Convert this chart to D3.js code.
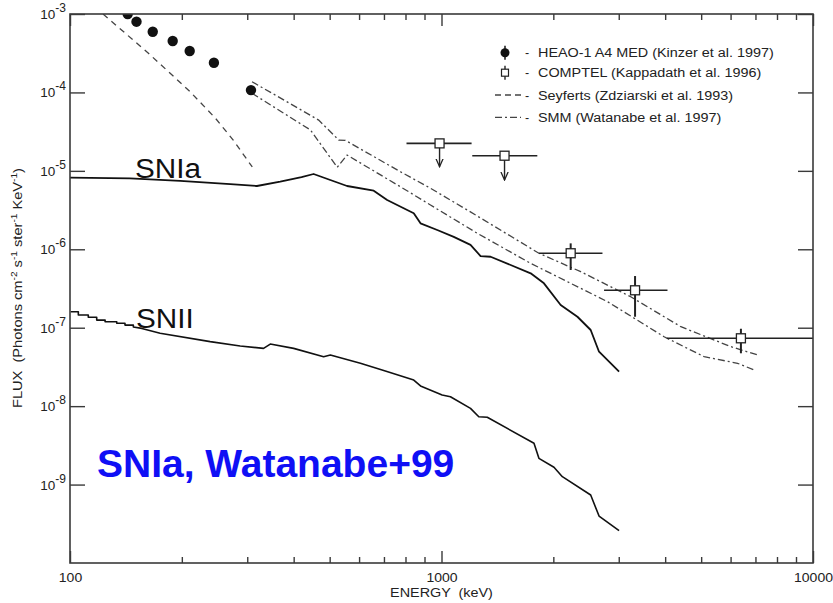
<!DOCTYPE html>
<html>
<head>
<meta charset="utf-8">
<script src="https://cdn.jsdelivr.net/npm/d3@7"></script>
<style>
  body { margin: 0; background: #fff; }
  svg { display: block; font-family: "Liberation Sans", Arial, Helvetica, sans-serif; }
</style>
</head>
<body>
<svg id="chart" width="833" height="603"></svg>
<script>
// Values: energy in keV, flux in photons cm^-2 s^-1 ster^-1 keV^-1

// HEAO-1 A4 MED points
const heaoEnergy = [143, 151, 167, 189, 210, 244, 307];
const heaoFlux   = [1.0e-3, 7.98e-4, 5.94e-4, 4.53e-4, 3.37e-4, 2.39e-4, 1.07e-4];

// COMPTEL points (first two are upper limits)
const comptelEnergy = [988, 1478, 2227, 3319, 6397];
const comptelLow    = [805, 1210, 1829, 2739, 4042];
const comptelHigh   = [1205, 1811, 2712, 4058, 10000];
const comptelFlux   = [2.24e-5, 1.56e-5, 8.9e-7, 3.0e-7, 7.33e-8];
const comptelErrHi  = [2.24e-5, 1.56e-5, 1.19e-6, 4.56e-7, 9.7e-8];
const comptelErrLo  = [1.13e-5, 7.64e-6, 5.44e-7, 1.38e-7, 4.72e-8];
const comptelUpperLimit = [true, true, false, false, false];

// Seyferts (dashed)
const seyfertEnergy = [100, 122.7, 162.6, 210.6, 246, 275, 309.5];
const seyfertFlux   = [2.34e-3, 1.0e-3, 3.16e-4, 1.02e-4, 4.72e-5, 2.47e-5, 1.12e-5];

// SMM band (dash-dot), upper and lower edges
const smmUpperEnergy = [309, 467, 529, 551, 775, 934, 1173, 1829, 2370, 3231, 4408, 6012, 7095];
const smmUpperFlux   = [1.37e-4, 4.44e-5, 2.47e-5, 2.45e-5, 9.75e-6, 6.0e-6, 3.17e-6, 8.9e-7, 5.18e-7, 2.48e-7, 1.03e-7, 5.73e-8, 4.49e-8];
const smmLowerEnergy = [309, 444, 524, 557, 775, 934, 1248, 1738, 2227, 2797, 3974, 5093, 6266, 6948];
const smmLowerFlux   = [9.75e-5, 3.32e-5, 1.11e-5, 1.59e-5, 6.28e-6, 3.67e-6, 1.6e-6, 6.62e-7, 3.68e-7, 2.15e-7, 7.67e-8, 4.27e-8, 3.52e-8, 2.89e-8];

// SNIa model
const snIaEnergy = [100, 145, 198, 270, 318.5, 368, 420, 452.6, 502, 557, 657, 714, 791, 842, 878, 974, 1079, 1197, 1274, 1356, 1535, 1738, 1887, 2093, 2322, 2521, 2655, 3006];
const snIaFlux   = [8.2e-6, 8.0e-6, 7.43e-6, 6.79e-6, 6.41e-6, 7.28e-6, 8.3e-6, 9.12e-6, 7.64e-6, 6.41e-6, 5.58e-6, 4.25e-6, 3.33e-6, 2.88e-6, 2.14e-6, 1.76e-6, 1.44e-6, 1.14e-6, 8.2e-7, 8.03e-7, 6.31e-7, 4.94e-7, 3.68e-7, 1.95e-7, 1.38e-7, 9.35e-8, 4.94e-8, 2.75e-8];

// SNII model (stepped at low energy)
const snIIEnergy = [100.4, 105.3, 105.3, 112, 112, 118, 118, 124.3, 124.3, 133.6, 133.6, 140.6, 140.6, 148.1, 148.1, 156.1,
                    174.8, 238.4, 287.2, 331.9, 346, 399.9, 481.6, 502.2, 604.9, 706, 842, 878, 1004, 1057, 1197, 1260, 1328,
                    1774, 1829, 2008, 2115, 2521, 2655, 3006];
const snIIFlux   = [1.6e-7, 1.6e-7, 1.45e-7, 1.45e-7, 1.36e-7, 1.36e-7, 1.25e-7, 1.25e-7, 1.19e-7, 1.19e-7, 1.14e-7, 1.14e-7, 1.08e-7, 1.08e-7, 1.02e-7, 9.8e-8,
                    8.5e-8, 6.64e-8, 5.85e-8, 5.45e-8, 6.19e-8, 5.45e-8, 4.27e-8, 4.49e-8, 3.52e-8, 2.81e-8, 2.15e-8, 1.81e-8, 1.39e-8, 1.32e-8, 9.37e-9, 7.33e-9, 7.21e-9,
                    3.36e-9, 2.16e-9, 1.66e-9, 1.26e-9, 7.36e-10, 3.97e-10, 2.58e-10];

// Axis ticks and labels
const xMajorTicks = [100, 1000, 10000];
const xMinorTicks = [200, 300, 400, 500, 600, 700, 800, 900, 2000, 3000, 4000, 5000, 6000, 7000, 8000, 9000];
const yTickExponents = [-9, -8, -7, -6, -5, -4, -3];

const legendLabels = [
  'HEAO-1 A4 MED (Kinzer et al. 1997)',
  'COMPTEL (Kappadath et al. 1996)',
  'Seyferts (Zdziarski et al. 1993)',
  'SMM (Watanabe et al. 1997)'
];

// ---- layout ----
const width = 833, height = 603;
const margin = { top: 14, right: 20, bottom: 40, left: 70 };
const innerW = width - margin.left - margin.right;
const innerH = height - margin.top - margin.bottom;
const ink = '#222';
const axisInk = '#3a3a3a';

const svg = d3.select('#chart');
const g = svg.append('g').attr('transform', `translate(${margin.left},${margin.top})`);

const x = d3.scaleLog().domain([100, 10000]).range([0, innerW]);
const y = d3.scaleLog().domain([1e-10, 1e-3]).range([innerH, 0]);

// widen text a bit, the source figure is stretched horizontally
function stretch(sel, k) {
  sel.each(function() {
    const len = this.getComputedTextLength();
    d3.select(this).attr('textLength', len * k).attr('lengthAdjust', 'spacingAndGlyphs');
  });
}

const defs = svg.append('defs');
defs.append('clipPath').attr('id', 'plotClip')
  .append('rect').attr('width', innerW).attr('height', innerH);
defs.append('marker')
  .attr('id', 'arrowDown')
  .attr('viewBox', '0 -5 10 10')
  .attr('refX', 9).attr('refY', 0)
  .attr('markerWidth', 9).attr('markerHeight', 9)
  .attr('markerUnits', 'userSpaceOnUse')
  .attr('orient', 'auto')
  .append('path')
  .attr('d', 'M0,-4L9,0L0,4')
  .attr('fill', 'none')
  .attr('stroke', ink)
  .attr('stroke-width', 1.4);

const plot = g.append('g').attr('clip-path', 'url(#plotClip)');

const line = d3.line().x(d => x(d[0])).y(d => y(d[1]));

// model curves
plot.append('path')
  .datum(d3.zip(snIaEnergy, snIaFlux))
  .attr('d', line)
  .attr('fill', 'none').attr('stroke', '#111').attr('stroke-width', 1.8)
  .attr('stroke-linejoin', 'round');

plot.append('path')
  .datum(d3.zip(snIIEnergy, snIIFlux))
  .attr('d', line)
  .attr('fill', 'none').attr('stroke', '#111').attr('stroke-width', 1.6)
  .attr('stroke-linejoin', 'round');

// Seyferts
plot.append('path')
  .datum(d3.zip(seyfertEnergy, seyfertFlux))
  .attr('d', line)
  .attr('fill', 'none').attr('stroke', '#444').attr('stroke-width', 1.3)
  .attr('stroke-dasharray', '6,5');

// SMM band
[[smmUpperEnergy, smmUpperFlux], [smmLowerEnergy, smmLowerFlux]].forEach(([e, f]) => {
  plot.append('path')
    .datum(d3.zip(e, f))
    .attr('d', line)
    .attr('fill', 'none').attr('stroke', '#444').attr('stroke-width', 1.3)
    .attr('stroke-dasharray', '7,3,2,3');
});

// HEAO points
plot.selectAll('.heao')
  .data(d3.zip(heaoEnergy, heaoFlux))
  .enter().append('circle')
  .attr('class', 'heao')
  .attr('cx', d => x(d[0]))
  .attr('cy', d => y(d[1]))
  .attr('r', 5.2)
  .attr('fill', '#111');

// COMPTEL points
const comptel = comptelEnergy.map((e, i) => ({
  e, lo: comptelLow[i], hi: comptelHigh[i], f: comptelFlux[i],
  errHi: comptelErrHi[i], errLo: comptelErrLo[i], limit: comptelUpperLimit[i]
}));

const cg = plot.selectAll('.comptel').data(comptel).enter().append('g').attr('class', 'comptel');
cg.append('line')
  .attr('x1', d => x(d.lo)).attr('x2', d => x(d.hi))
  .attr('y1', d => y(d.f)).attr('y2', d => y(d.f))
  .attr('stroke', ink).attr('stroke-width', 1.6);
cg.append('line')
  .attr('x1', d => x(d.e)).attr('x2', d => x(d.e))
  .attr('y1', d => y(d.errHi)).attr('y2', d => y(d.errLo))
  .attr('stroke', ink)
  .attr('stroke-width', d => d.limit ? 1.4 : 2)
  .attr('marker-end', d => d.limit ? 'url(#arrowDown)' : null);
cg.append('rect')
  .attr('x', d => x(d.e) - 4.5).attr('y', d => y(d.f) - 4.5)
  .attr('width', 9).attr('height', 9)
  .attr('fill', '#fff').attr('stroke', ink).attr('stroke-width', 1.3);

// ---- axes ----
function styleAxis(sel) {
  sel.select('.domain').remove();
  sel.selectAll('.tick line').attr('stroke', axisInk).attr('stroke-width', 1.4);
}

g.append('g')
  .attr('transform', `translate(0,${innerH})`)
  .call(d3.axisBottom(x).tickValues(xMajorTicks).tickSize(-12).tickPadding(10).tickFormat(d3.format('d')))
  .call(styleAxis)
  .call(s => s.selectAll('text').attr('fill', ink).attr('font-size', 12.5)
    .attr('font-family', '"Liberation Sans", Arial, sans-serif').call(stretch, 1.12));

g.append('g')
  .attr('transform', `translate(0,${innerH})`)
  .call(d3.axisBottom(x).tickValues(xMinorTicks).tickSize(-6).tickFormat(''))
  .call(styleAxis);

g.append('g')
  .call(d3.axisTop(x).tickValues(xMajorTicks).tickSize(-12).tickFormat(''))
  .call(styleAxis);

g.append('g')
  .call(d3.axisTop(x).tickValues(xMinorTicks).tickSize(-6).tickFormat(''))
  .call(styleAxis);

const yTicks = yTickExponents.map(e => Math.pow(10, e));

g.append('g')
  .call(d3.axisLeft(y).tickValues(yTicks).tickSize(-15).tickFormat(''))
  .call(styleAxis);

g.append('g')
  .attr('transform', `translate(${innerW},0)`)
  .call(d3.axisRight(y).tickValues(yTicks).tickSize(-15).tickFormat(''))
  .call(styleAxis);

// frame
g.append('rect')
  .attr('width', innerW).attr('height', innerH)
  .attr('fill', 'none').attr('stroke', axisInk).attr('stroke-width', 1.6);

// y tick labels as 10^n
const yLab = g.selectAll('.ylab')
  .data(yTickExponents)
  .enter().append('text')
  .attr('class', 'ylab')
  .attr('x', -4)
  .attr('y', d => y(Math.pow(10, d)) + 5)
  .attr('text-anchor', 'end')
  .attr('fill', ink)
  .attr('font-size', 13.5);
yLab.append('tspan').text('10');
yLab.append('tspan').attr('dy', -7).attr('font-size', 12).text(d => String(d));

// axis titles
g.append('text')
  .attr('x', innerW / 2).attr('y', innerH + 34)
  .attr('text-anchor', 'middle')
  .attr('fill', ink).attr('font-size', 12.5)
  .text('ENERGY  (keV)')
  .style('white-space', 'pre')
  .call(stretch, 1.15);

const yTitle = svg.append('text')
  .attr('transform', 'translate(22,288) rotate(-90)')
  .attr('text-anchor', 'middle')
  .attr('fill', ink).attr('font-size', 13)
  .style('white-space', 'pre');
yTitle.append('tspan').text('FLUX  (Photons cm');
yTitle.append('tspan').attr('dy', -5).attr('font-size', 9).text('-2');
yTitle.append('tspan').attr('dy', 5).text(' s');
yTitle.append('tspan').attr('dy', -5).attr('font-size', 9).text('-1');
yTitle.append('tspan').attr('dy', 5).text(' ster');
yTitle.append('tspan').attr('dy', -5).attr('font-size', 9).text('-1');
yTitle.append('tspan').attr('dy', 5).text(' KeV');
yTitle.append('tspan').attr('dy', -5).attr('font-size', 9).text('-1');
yTitle.append('tspan').attr('dy', 5).text(')');
yTitle.attr('textLength', 240).attr('lengthAdjust', 'spacingAndGlyphs');

// curve labels
g.append('text')
  .attr('x', 65).attr('y', 164)
  .attr('fill', '#111').attr('font-size', 27)
  .text('SNIa')
  .call(stretch, 1.1);

g.append('text')
  .attr('x', 66).attr('y', 314)
  .attr('fill', '#111').attr('font-size', 27)
  .text('SNII')
  .call(stretch, 1.1);

// annotation
svg.append('text')
  .attr('x', 97).attr('y', 477)
  .attr('fill', '#0f0ff5')
  .attr('font-size', 39)
  .attr('font-weight', 'bold')
  .text('SNIa, Watanabe+99');

// ---- legend ----
const legendRowY = [52.7, 72.7, 95, 117.3];
const legend = svg.append('g');

legendLabels.forEach((label, i) => {
  const row = legend.append('g').attr('transform', `translate(0,${legendRowY[i]})`);
  if (i === 0) {
    row.append('line').attr('x1', 505).attr('x2', 505).attr('y1', -7).attr('y2', 7)
      .attr('stroke', ink).attr('stroke-width', 1.6);
    row.append('circle').attr('cx', 505).attr('cy', 0).attr('r', 4.5).attr('fill', '#111');
  } else if (i === 1) {
    row.append('line').attr('x1', 505).attr('x2', 505).attr('y1', -7).attr('y2', 7)
      .attr('stroke', ink).attr('stroke-width', 1.4);
    row.append('rect').attr('x', 501.5).attr('y', -3.5).attr('width', 7).attr('height', 7)
      .attr('fill', '#fff').attr('stroke', ink).attr('stroke-width', 1.2);
  } else {
    row.append('line').attr('x1', 495).attr('x2', 521).attr('y1', 0).attr('y2', 0)
      .attr('stroke', '#444').attr('stroke-width', 1.3)
      .attr('stroke-dasharray', i === 2 ? '6,4' : '7,3,2,3');
  }
  row.append('text').attr('x', 525).attr('y', 4.5)
    .attr('fill', ink).attr('font-size', 12.5).text('-');
  row.append('text').attr('x', 538).attr('y', 4.5)
    .attr('fill', ink).attr('font-size', 12.5).text(label)
    .call(stretch, 1.15);
});
</script>
</body>
</html>
